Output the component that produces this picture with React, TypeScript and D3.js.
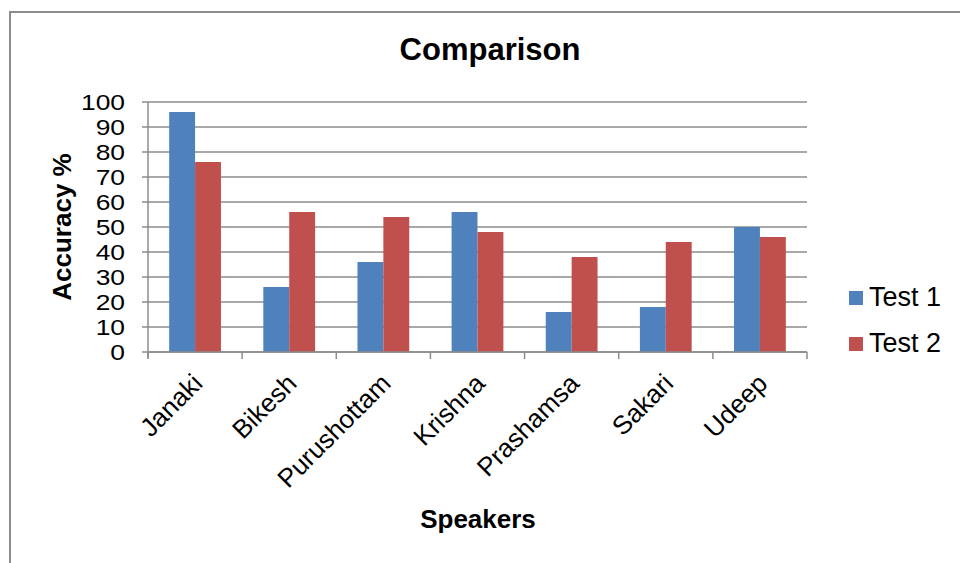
import * as d3 from "d3";
import React, { useRef, useEffect } from "react";

const speakers = ["Janaki", "Bikesh", "Purushottam", "Krishna", "Prashamsa", "Sakari", "Udeep"];
const seriesNames = ["Test 1", "Test 2"];
const test1 = [96, 26, 36, 56, 16, 18, 50];
const test2 = [76, 56, 54, 48, 38, 44, 46];
const yTicks = [0, 10, 20, 30, 40, 50, 60, 70, 80, 90, 100];
const colors = ["#4F81BD", "#C0504D"];

const W = 960;
const H = 563;
const FONT = "'Liberation Sans', Arial, sans-serif";

const App: React.FC = () => {
  const svgRef = useRef<SVGSVGElement>(null);

  useEffect(() => {
    if (!svgRef.current) return;
    const svg = d3.select(svgRef.current);
    svg.selectAll("*").remove();

    const left = 148;
    const right = 807;
    const top = 102;
    const bottom = 352;

    // outer chart border
    svg
      .append("rect")
      .attr("x", 10)
      .attr("y", 12)
      .attr("width", W + 20)
      .attr("height", H + 20)
      .attr("fill", "#fff")
      .attr("stroke", "#8c8c8c")
      .attr("stroke-width", 2);

    const x0 = d3.scaleBand<string>().domain(speakers).range([left, right]);
    const bw = x0.bandwidth();
    const gap = bw * 0.225;
    const x1 = d3.scaleBand<string>().domain(seriesNames).range([gap, bw - gap]);
    const y = d3.scaleLinear().domain([0, 100]).range([bottom, top]);

    // gridlines
    svg
      .append("g")
      .selectAll("line")
      .data(yTicks)
      .enter()
      .append("line")
      .attr("x1", left - 6)
      .attr("x2", right)
      .attr("y1", (d) => y(d))
      .attr("y2", (d) => y(d))
      .attr("stroke", "#8c8c8c")
      .attr("stroke-width", 1.5);

    // y tick labels (slightly stretched, like the original)
    svg
      .append("g")
      .selectAll("text")
      .data(yTicks)
      .enter()
      .append("text")
      .attr("transform", (d) => `translate(${left - 23},${y(d)}) scale(1.2,1)`)
      .attr("dy", "0.36em")
      .attr("text-anchor", "end")
      .attr("font-family", FONT)
      .attr("font-size", 22)
      .attr("fill", "#000")
      .text((d) => d);

    // bars
    const data = speakers.map((s, i) => ({ speaker: s, values: [test1[i], test2[i]] }));
    const groups = svg
      .append("g")
      .selectAll("g")
      .data(data)
      .enter()
      .append("g")
      .attr("transform", (d) => `translate(${x0(d.speaker)},0)`);
    groups
      .selectAll("rect")
      .data((d) => d.values.map((v, i) => ({ key: seriesNames[i], v, i })))
      .enter()
      .append("rect")
      .attr("x", (d) => x1(d.key)!)
      .attr("width", x1.bandwidth())
      .attr("y", (d) => y(d.v))
      .attr("height", (d) => bottom - y(d.v))
      .attr("fill", (d) => colors[d.i]);

    // axes lines
    svg
      .append("line")
      .attr("x1", left)
      .attr("x2", left)
      .attr("y1", top)
      .attr("y2", bottom + 6)
      .attr("stroke", "#8c8c8c")
      .attr("stroke-width", 1.5);
    svg
      .append("line")
      .attr("x1", left)
      .attr("x2", right)
      .attr("y1", bottom)
      .attr("y2", bottom)
      .attr("stroke", "#8c8c8c")
      .attr("stroke-width", 1.5);
    const bounds = speakers.map((s) => x0(s)!).concat([right]);
    svg
      .append("g")
      .selectAll("line")
      .data(bounds)
      .enter()
      .append("line")
      .attr("x1", (d) => d)
      .attr("x2", (d) => d)
      .attr("y1", bottom)
      .attr("y2", bottom + 7)
      .attr("stroke", "#8c8c8c")
      .attr("stroke-width", 1.5);

    // x labels
    svg
      .append("g")
      .selectAll("text")
      .data(speakers)
      .enter()
      .append("text")
      .attr("transform", (d) => `translate(${x0(d)! + bw / 2 + 9},${bottom + 33}) rotate(-45)`)
      .attr("text-anchor", "end")
      .attr("font-family", FONT)
      .attr("font-size", 26)
      .attr("fill", "#000")
      .text((d) => d);

    // title
    svg
      .append("text")
      .attr("x", 490)
      .attr("y", 60)
      .attr("text-anchor", "middle")
      .attr("font-family", FONT)
      .attr("font-size", 31)
      .attr("font-weight", "bold")
      .text("Comparison");

    // axis titles
    svg
      .append("text")
      .attr("transform", `translate(71,${(top + bottom) / 2}) rotate(-90)`)
      .attr("text-anchor", "middle")
      .attr("font-family", FONT)
      .attr("font-size", 26)
      .attr("font-weight", "bold")
      .text("Accuracy %");
    svg
      .append("text")
      .attr("x", 478)
      .attr("y", 528)
      .attr("text-anchor", "middle")
      .attr("font-family", FONT)
      .attr("font-size", 26)
      .attr("font-weight", "bold")
      .text("Speakers");

    // legend
    const legend = svg
      .append("g")
      .selectAll("g")
      .data(seriesNames)
      .enter()
      .append("g")
      .attr("transform", (d, i) => `translate(849,${291 + i * 46})`);
    legend
      .append("rect")
      .attr("width", 14)
      .attr("height", 14)
      .attr("fill", (d, i) => colors[i]);
    legend
      .append("text")
      .attr("x", 20)
      .attr("y", 15)
      .attr("font-family", FONT)
      .attr("font-size", 27)
      .attr("fill", "#000")
      .text((d) => d);
  }, []);

  return (
    <svg
      ref={svgRef}
      width={W}
      height={H}
      style={{ position: "absolute", left: 0, top: 0, background: "#fff" }}
    />
  );
};

export default App;
